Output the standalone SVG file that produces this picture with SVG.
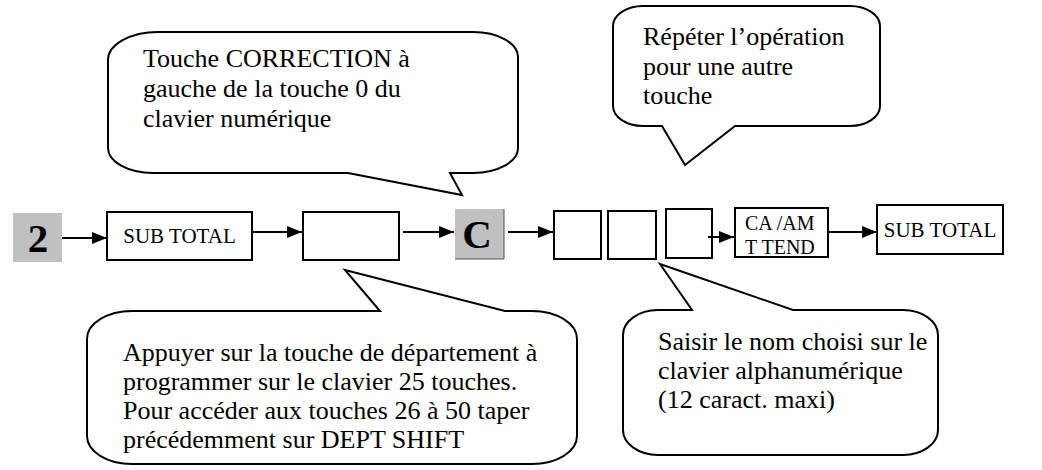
<svg xmlns="http://www.w3.org/2000/svg" width="1042" height="470" viewBox="0 0 1042 470">
<style>
.t{font-family:"Liberation Serif","Times New Roman",serif;fill:#000}
.lbl{font-size:20px}
.st{font-size:21px;text-anchor:middle}
.big{font-size:26px}
.key{font-size:41px;font-weight:bold;text-anchor:middle}
.box{fill:#fff;stroke:#000;stroke-width:2}
.gray{fill:#c0c0c0;stroke:none}
.call{fill:#fff;stroke:#000;stroke-width:2;stroke-linejoin:miter}
.con{stroke:#000;stroke-width:2;fill:none;marker-end:url(#ah)}
</style>
<defs>
<marker id="ah" markerUnits="userSpaceOnUse" markerWidth="15" markerHeight="12" refX="15" refY="6" orient="auto">
<path d="M0,0 L15,6 L0,12 Z" fill="#000"/>
</marker>
</defs>
<rect width="1042" height="470" fill="#fff"/>

<g id="callout-correction">
<path class="call" d="M158,32 H473 A45 25 0 0 1 518,57 V148 A45 25 0 0 1 473,173 H450 L462,195 L348,173 H153 A45 25 0 0 1 108,148 V60 A50 28 0 0 1 158,32 Z"/>
<text class="t big" x="143" y="67">Touche CORRECTION à</text>
<text class="t big" x="143" y="97">gauche de la touche 0 du</text>
<text class="t big" x="143" y="127">clavier numérique</text>
</g>

<g id="callout-repeter">
<path class="call" d="M643,6 H850 A30 20 0 0 1 880,26 V106 A30 20 0 0 1 850,126 H735 L685,165 L662,126 H643 A30 20 0 0 1 613,106 V26 A30 20 0 0 1 643,6 Z"/>
<text class="t big" x="643" y="45">Répéter l’opération</text>
<text class="t big" x="643" y="75">pour une autre</text>
<text class="t big" x="643" y="104">touche</text>
</g>

<g id="callout-departement">
<path class="call" d="M132,311 H380 L345,270 L505,311 H532 A45 28 0 0 1 577,339 V436 A45 28 0 0 1 532,464 H132 A45 28 0 0 1 87,436 V339 A45 28 0 0 1 132,311 Z"/>
<text class="t big" x="123" y="361">Appuyer sur la touche de département à</text>
<text class="t big" x="123" y="390">programmer sur le clavier 25 touches.</text>
<text class="t big" x="123" y="419">Pour accéder aux touches 26 à 50 taper</text>
<text class="t big" x="123" y="448">précédemment sur DEPT SHIFT</text>
</g>

<g id="callout-nom">
<path class="call" d="M658,310 H692 L660,264 L793,310 H903 A35 25 0 0 1 938,335 V430 A35 25 0 0 1 903,455 H658 A35 25 0 0 1 623,430 V335 A35 25 0 0 1 658,310 Z"/>
<text class="t big" x="658" y="350">Saisir le nom choisi sur le</text>
<text class="t big" x="658" y="379">clavier alphanumérique</text>
<text class="t big" x="658" y="408">(12 caract. maxi)</text>
</g>

<g id="key-2">
<rect class="gray" x="13" y="213" width="49" height="49"/>
<text class="t key" x="38" y="252">2</text>
</g>

<g id="subtotal-1">
<rect class="box" x="107" y="212" width="145" height="48"/>
<text class="t st" x="179.5" y="243">SUB TOTAL</text>
</g>

<g id="dept-key">
<rect class="box" x="303" y="212" width="96" height="48"/>
</g>

<g id="key-c">
<rect class="gray" x="455" y="209" width="49" height="50"/>
<path d="M504,209 V259 H455" fill="none" stroke="#555" stroke-width="1"/>
<text class="t key" x="477" y="248">C</text>
</g>

<g id="char-1">
<rect class="box" x="554" y="211" width="47" height="48"/>
</g>
<g id="char-2">
<rect class="box" x="608" y="211" width="48" height="48"/>
</g>
<g id="char-3">
<rect class="box" x="666" y="209" width="46" height="49"/>
</g>

<g id="ca-amt-tend">
<rect class="box" x="735" y="208" width="93" height="49"/>
<text class="t lbl" x="745" y="230">CA /AM</text>
<text class="t lbl" x="745" y="254">T TEND</text>
</g>

<g id="subtotal-2">
<rect class="box" x="877" y="205" width="126" height="49"/>
<text class="t st" x="940" y="237">SUB TOTAL</text>
</g>

<g id="connectors">
<line class="con" x1="62" y1="238" x2="107" y2="238"/>
<line class="con" x1="252" y1="232" x2="302" y2="232"/>
<line class="con" x1="403" y1="232" x2="454" y2="232"/>
<line class="con" x1="508" y1="232" x2="553" y2="232"/>
<line class="con" x1="708" y1="237" x2="734" y2="237"/>
<line class="con" x1="828" y1="232" x2="877" y2="232"/>
</g>
</svg>
